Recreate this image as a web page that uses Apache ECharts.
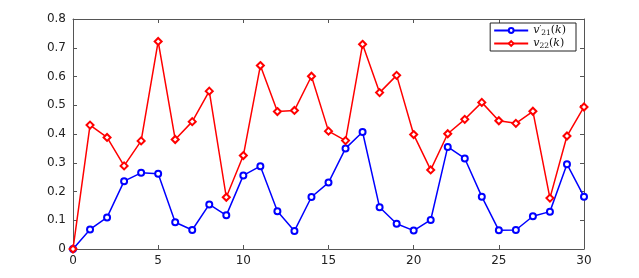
<!DOCTYPE html>
<html><head><meta charset="utf-8">
<script src="https://cdn.jsdelivr.net/npm/echarts@6/dist/echarts.min.js"></script>
<style>html,body{margin:0;padding:0;background:#fff}#c{width:639px;height:278px}</style>
</head><body><div id="c"></div>
<script>
const kValues = [0,1,2,3,4,5,6,7,8,9,10,11,12,13,14,15,16,17,18,19,20,21,22,23,24,25,26,27,28,29,30];
const v21 = [0,0.068,0.110,0.236,0.265,0.262,0.093,0.066,0.155,0.117,0.256,0.288,0.131,0.063,0.181,0.231,0.350,0.407,0.145,0.088,0.064,0.101,0.355,0.315,0.182,0.065,0.066,0.114,0.130,0.295,0.182];
const v22 = [0,0.431,0.388,0.289,0.376,0.722,0.381,0.443,0.549,0.180,0.325,0.638,0.478,0.482,0.601,0.410,0.377,0.712,0.544,0.604,0.398,0.275,0.401,0.451,0.510,0.446,0.437,0.479,0.177,0.393,0.494];
const seriesNames = ['v21','v22'];
const xTicks = {min:0,max:30,interval:5};
const yTicks = {min:0,max:0.8,interval:0.1};

const chart = echarts.init(document.getElementById('c'));
const axisCol = '#555';
const lblFont = {fontFamily:'DejaVu Sans, Liberation Sans, sans-serif',fontSize:12,color:'#222'};
const baseX = {type:'value',min:xTicks.min,max:xTicks.max,interval:xTicks.interval,
  axisLine:{show:true,onZero:false,lineStyle:{color:axisCol,width:1}},
  axisTick:{show:true,inside:true,length:4,lineStyle:{color:axisCol}},
  splitLine:{show:false}};
const baseY = {type:'value',min:yTicks.min,max:yTicks.max,interval:yTicks.interval,
  axisLine:{show:true,onZero:false,lineStyle:{color:axisCol,width:1}},
  axisTick:{show:true,inside:true,length:4,lineStyle:{color:axisCol}},
  splitLine:{show:false}};
const mk = arr => kValues.map((k,i)=>[k,arr[i]]);
const ff = 'DejaVu Serif, serif';
const rich = {
  v:{fontFamily:ff,fontStyle:'italic',fontSize:11,color:'#111',lineHeight:13},
  s:{fontFamily:ff,fontSize:7.5,color:'#111',padding:[5,0,0,0],lineHeight:13},
  p:{fontFamily:ff,fontSize:8,color:'#111',padding:[0,0,5,0],lineHeight:13},
  k:{fontFamily:ff,fontStyle:'italic',fontSize:11,color:'#111',lineHeight:13},
  n:{fontFamily:ff,fontSize:11,color:'#111',lineHeight:13}
};
chart.setOption({
  animation:false,
  backgroundColor:'#fff',
  grid:{left:73,right:55,top:19,bottom:29},
  xAxis:[Object.assign({},baseX,{position:'bottom',axisLabel:Object.assign({margin:6},lblFont)}),
         Object.assign({},baseX,{position:'top',axisLabel:{show:false}})],
  yAxis:[Object.assign({},baseY,{position:'left',axisLabel:Object.assign({margin:7,formatter:v=>v===0?'0':v.toFixed(1)},lblFont)}),
         Object.assign({},baseY,{position:'right',axisLabel:{show:false}})],
  legend:{
    right:63,top:23,orient:'vertical',
    backgroundColor:'#fff',borderColor:'#222',borderWidth:1,
    padding:[1,10,1,3],itemGap:0,itemWidth:34,itemHeight:6,
    textStyle:{rich:rich},
    formatter:function(name){
      if(name==='v21') return '{v|v}{p|′}{s|21}{n|(}{k|k}{n|)}';
      return '{v|v}{s|22}{n|(}{k|k}{n|)}';
    },
    data:seriesNames
  },
  series:[
    {name:seriesNames[0],type:'line',data:mk(v21),xAxisIndex:0,yAxisIndex:0,
     lineStyle:{color:'#0000ff',width:1.5},itemStyle:{color:'#0000ff',borderColor:'#0000ff',borderWidth:1.2},
     symbol:'emptyCircle',symbolSize:6,z:2},
    {name:seriesNames[1],type:'line',data:mk(v22),xAxisIndex:0,yAxisIndex:0,
     lineStyle:{color:'#ff0000',width:1.5},itemStyle:{color:'#ff0000',borderColor:'#ff0000',borderWidth:1.2},
     symbol:'emptyDiamond',symbolSize:7,z:3}
  ]
});
</script></body></html>
